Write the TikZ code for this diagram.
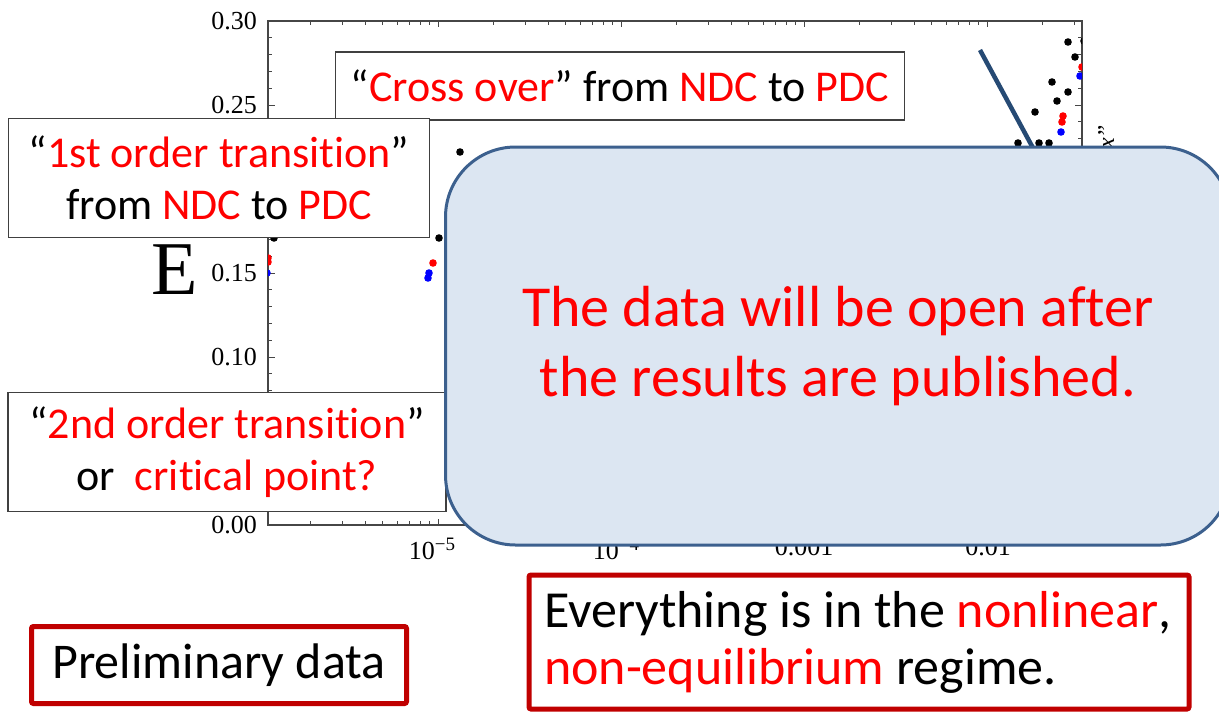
\documentclass[tikz,border=0pt]{standalone}
\usepackage{xcolor}
\usepackage{fontspec}
\setmainfont{Carlito}[Script=Latin,Ligatures={NoCommon,NoContextual},RawFeature={-liga;-clig;-calt;-dlig}]
\newfontfamily\timesfont{Liberation Serif}
\usepackage{tikz}

\definecolor{axisgray}{RGB}{70,70,70}
\definecolor{boxedge}{RGB}{64,64,64}
\definecolor{darkred}{RGB}{192,0,0}
\definecolor{calloutfill}{RGB}{220,230,242}
\definecolor{calloutedge}{RGB}{60,96,142}
\definecolor{pointer}{RGB}{38,74,116}

\newcommand{\rd}[1]{\textcolor{red}{#1}}

\begin{document}
\begin{tikzpicture}[x=1pt, y=-1pt,
  axisframe/.style={draw=axisgray, line width=1.3pt},
  tickmark/.style={draw=axisgray, line width=1pt},
  ticklabel/.style={font=\timesfont\fontsize{26}{26}\selectfont, inner sep=0pt},
  note/.style={draw=boxedge, line width=1.5pt, fill=white, align=center, inner sep=0pt, font=\fontsize{44}{52}\selectfont},
  callout/.style={draw=calloutedge, line width=3pt, fill=calloutfill, rounded corners=70pt, align=center, text=red, inner sep=0pt, font=\fontsize{58}{70}\selectfont},
  redbox/.style={draw=darkred, line width=5pt, fill=white, rounded corners=2pt, inner sep=0pt, font=\fontsize{50}{56}\selectfont}]
\useasboundingbox (0,0) rectangle (1219,713);

% plot frame and ticks
\draw [axisframe] (268,21) rectangle (1082,525);
\begin{scope}
\clip (268,21) rectangle (1082,525);
\foreach \k in {0,...,30} {
  \pgfmathsetmacro\ty{525-16.8*\k}
  \pgfmathsetmacro\tl{mod(\k,5)==0 ? 7 : 4}
  \draw [tickmark] (268,\ty) -- ++(\tl,0);
  \draw [tickmark] (1082,\ty) -- ++(-\tl,0);
}
\foreach \d in {255,438,621,804,987} {
  \draw [tickmark] (\d,21) -- ++(0,6);
  \draw [tickmark] (\d,525) -- ++(0,-6);
  \foreach \m in {2,...,9} {
    \pgfmathsetmacro\tx{\d+183*log10(\m)}
    \draw [tickmark] (\tx,21) -- ++(0,4);
    \draw [tickmark] (\tx,525) -- ++(0,-4);
  }
}
% data points
\foreach \px/\py in {274/238,460/152,439/238,1068/42,1075/57,1084/41,1052/82,1068/92,1057/101,1035/112,1018/143,1039/143,1049/143}
  \fill [black] (\px,\py) circle (3.8pt);
\foreach \px/\py in {268/258,268/262,433/263,1082/67,1063/116,1062/122}
  \fill [red] (\px,\py) circle (3.8pt);
\foreach \px/\py in {267/273,429/273,428/278,1080/76,1061/132}
  \fill [blue] (\px,\py) circle (3.8pt);
\end{scope}

% axis labels
\foreach \v/\py [count=\i] in {0.30/21,0.25/105,0.15/273,0.10/357,0.00/525}
  \node (ylab\i) [ticklabel, anchor=east] at (257,\py) {\v};
\node (xlab1) [ticklabel, anchor=north] at (432,538) {10\raisebox{0.7ex}{\fontsize{19}{19}\selectfont −5}};
\node (xlab2) [ticklabel, anchor=north] at (616,538) {10\raisebox{0.7ex}{\fontsize{19}{19}\selectfont −4}};
\node (xlab3) [ticklabel, anchor=north] at (804,538) {0.001};
\node (xlab4) [ticklabel, anchor=north] at (988,538) {0.01};
\node (elab) [font=\timesfont\fontsize{76}{76}\selectfont] at (175,270) {E};
\node (sidelab) [font=\timesfont\itshape\fontsize{24}{24}\selectfont, rotate=90, anchor=base west, inner sep=0pt] at (1114,149) {x”};

% pointer
\coordinate (tipA) at (980,50);
\coordinate (tipB) at (1033,148);
\draw [pointer, line width=4.5pt] (tipA) -- (tipB);

% notes
\node (cross) [note, minimum width=569, minimum height=68] at (620,86)
  {“\rd{Cross over}” from \rd{NDC} to \rd{PDC}};
\node (first) [note, minimum width=421, minimum height=119] at (219,178)
  {“\rd{1st order transition}”\\from \rd{NDC} to \rd{PDC}};
\node (second) [note, minimum width=438, minimum height=119] at (227,452)
  {“\rd{2nd order transition}”\\or\ \ \rd{critical point?}};
\node (open) [callout, minimum width=785, minimum height=398] at (838,346)
  {\raisebox{-6pt}{\parbox{780pt}{\centering The data will be open after\\the results are published.}}};
\node (prelim) [redbox, minimum width=375, minimum height=77] at (219,665)
  {Preliminary data};
\node (regime) [redbox, text width=630, inner xsep=15pt, minimum height=134, align=flush left, font=\fontsize{52}{57}\selectfont] at (859,642)
  {Everything is in the \rd{nonlinear},\\\rd{non-equilibrium} regime.};
\end{tikzpicture}
\end{document}
